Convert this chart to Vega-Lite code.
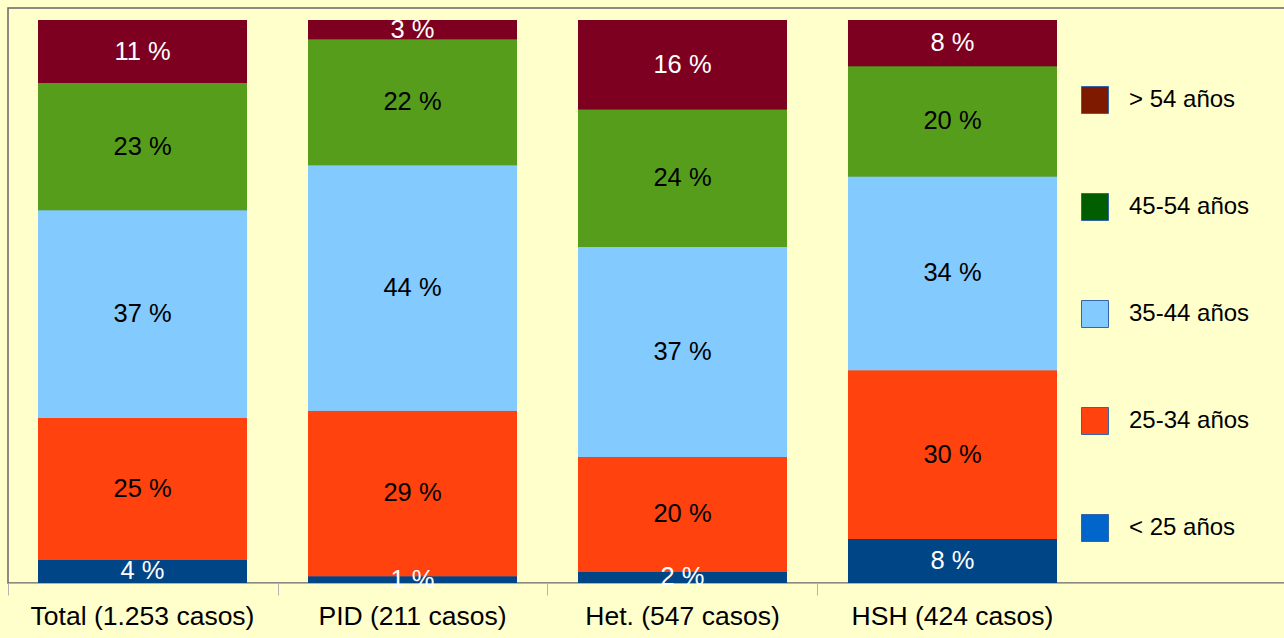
{
  "$schema": "https://vega.github.io/schema/vega-lite/v6.json",
  "width": 1277,
  "height": 575,
  "autosize": {"type": "none"},
  "padding": {"left": 8, "top": 8, "right": 0, "bottom": 55},
  "background": "#ffffcc",
  "config": {
    "view": {"stroke": "#666666", "strokeWidth": 1.5},
    "font": "Liberation Sans"
  },
  "data": {
    "values": [
      {"cat": "Total (1.253 casos)", "age": "< 25 años", "order": 1, "value": 4.1, "label": "4 %"},
      {"cat": "Total (1.253 casos)", "age": "25-34 años", "order": 2, "value": 25.2, "label": "25 %"},
      {"cat": "Total (1.253 casos)", "age": "35-44 años", "order": 3, "value": 36.9, "label": "37 %"},
      {"cat": "Total (1.253 casos)", "age": "45-54 años", "order": 4, "value": 22.6, "label": "23 %"},
      {"cat": "Total (1.253 casos)", "age": "> 54 años", "order": 5, "value": 11.2, "label": "11 %"},
      {"cat": "PID (211 casos)", "age": "< 25 años", "order": 1, "value": 1.2, "label": "1 %"},
      {"cat": "PID (211 casos)", "age": "25-34 años", "order": 2, "value": 29.4, "label": "29 %"},
      {"cat": "PID (211 casos)", "age": "35-44 años", "order": 3, "value": 43.6, "label": "44 %"},
      {"cat": "PID (211 casos)", "age": "45-54 años", "order": 4, "value": 22.4, "label": "22 %"},
      {"cat": "PID (211 casos)", "age": "> 54 años", "order": 5, "value": 3.4, "label": "3 %"},
      {"cat": "Het. (547 casos)", "age": "< 25 años", "order": 1, "value": 2.0, "label": "2 %"},
      {"cat": "Het. (547 casos)", "age": "25-34 años", "order": 2, "value": 20.4, "label": "20 %"},
      {"cat": "Het. (547 casos)", "age": "35-44 años", "order": 3, "value": 37.3, "label": "37 %"},
      {"cat": "Het. (547 casos)", "age": "45-54 años", "order": 4, "value": 24.4, "label": "24 %"},
      {"cat": "Het. (547 casos)", "age": "> 54 años", "order": 5, "value": 15.9, "label": "16 %"},
      {"cat": "HSH (424 casos)", "age": "< 25 años", "order": 1, "value": 7.8, "label": "8 %"},
      {"cat": "HSH (424 casos)", "age": "25-34 años", "order": 2, "value": 30.0, "label": "30 %"},
      {"cat": "HSH (424 casos)", "age": "35-44 años", "order": 3, "value": 34.4, "label": "34 %"},
      {"cat": "HSH (424 casos)", "age": "45-54 años", "order": 4, "value": 19.6, "label": "20 %"},
      {"cat": "HSH (424 casos)", "age": "> 54 años", "order": 5, "value": 8.2, "label": "8 %"}
    ]
  },
  "transform": [
    {"stack": "value", "groupby": ["cat"], "sort": [{"field": "order", "order": "ascending"}], "offset": "normalize", "as": ["y0", "y1"]},
    {"calculate": "(datum.y0 + datum.y1) / 2", "as": "mid"}
  ],
  "resolve": {"axis": {"x": "independent"}},
  "layer": [
    {
      "mark": {"type": "bar", "opacity": 1},
      "encoding": {
        "x": {
          "field": "cat",
          "type": "nominal",
          "sort": ["Total (1.253 casos)", "PID (211 casos)", "Het. (547 casos)", "HSH (424 casos)"],
          "scale": {"paddingInner": 0.2259, "paddingOuter": 0.4778, "align": 0.1163},
          "axis": {
            "orient": "bottom",
            "title": null,
            "labels": false,
            "bandPosition": 0,
            "tickOffset": -30.5,
            "tickSize": 12,
            "tickColor": "#b3b3b3",
            "domainColor": "#b3b3b3"
          }
        },
        "y": {"field": "y0", "type": "quantitative", "scale": {"domain": [0, 1.0213], "nice": false, "zero": false}, "axis": null},
        "y2": {"field": "y1"},
        "fill": {
          "field": "age",
          "type": "nominal",
          "scale": {
            "domain": ["> 54 años", "45-54 años", "35-44 años", "25-34 años", "< 25 años"],
            "range": ["#7e1a00", "#005e00", "#83caff", "#ff420e", "#0066cc"]
          },
          "legend": {
            "title": null,
            "orient": "none",
            "legendX": 1073,
            "legendY": 78,
            "padding": 0,
            "symbolType": "square",
            "symbolSize": 729,
            "symbolStrokeColor": "#3465a4",
            "symbolStrokeWidth": 1,
            "symbolOpacity": 1,
            "labelFontSize": 24,
            "labelFont": "Liberation Sans",
            "labelColor": "#000000",
            "labelOffset": 20,
            "rowPadding": 75,
            "labelLimit": 300
          }
        }
      }
    },
    {
      "mark": {"type": "bar"},
      "encoding": {
        "x": {
          "field": "cat",
          "type": "nominal",
          "sort": ["Total (1.253 casos)", "PID (211 casos)", "Het. (547 casos)", "HSH (424 casos)"],
          "axis": null
        },
        "y": {"field": "y0", "type": "quantitative", "scale": {"domain": [0, 1.0213], "nice": false, "zero": false}, "axis": null},
        "y2": {"field": "y1"},
        "color": {
          "field": "age",
          "type": "nominal",
          "scale": {
            "domain": ["> 54 años", "45-54 años", "35-44 años", "25-34 años", "< 25 años"],
            "range": ["#7e0021", "#579d1c", "#83caff", "#ff420e", "#004586"]
          },
          "legend": null
        }
      }
    },
    {
      "mark": {"type": "text", "fontSize": 25.5, "font": "Liberation Sans", "baseline": "middle", "align": "center"},
      "encoding": {
        "x": {
          "field": "cat",
          "type": "nominal",
          "sort": ["Total (1.253 casos)", "PID (211 casos)", "Het. (547 casos)", "HSH (424 casos)"],
          "axis": {
            "orient": "bottom",
            "title": null,
            "labelAngle": 0,
            "labelFontSize": 26.5,
            "labelFont": "Liberation Sans",
            "labelColor": "#000000",
            "labelPadding": 20,
            "labelLimit": 400,
            "ticks": false,
            "domain": false
          }
        },
        "y": {"field": "mid", "type": "quantitative", "scale": {"domain": [0, 1.0213], "nice": false, "zero": false}, "axis": null},
        "text": {"field": "label"},
        "color": {
          "condition": {"test": "datum.age === '> 54 años' || datum.age === '< 25 años'", "value": "#ffffff"},
          "value": "#000000"
        }
      }
    }
  ]
}
